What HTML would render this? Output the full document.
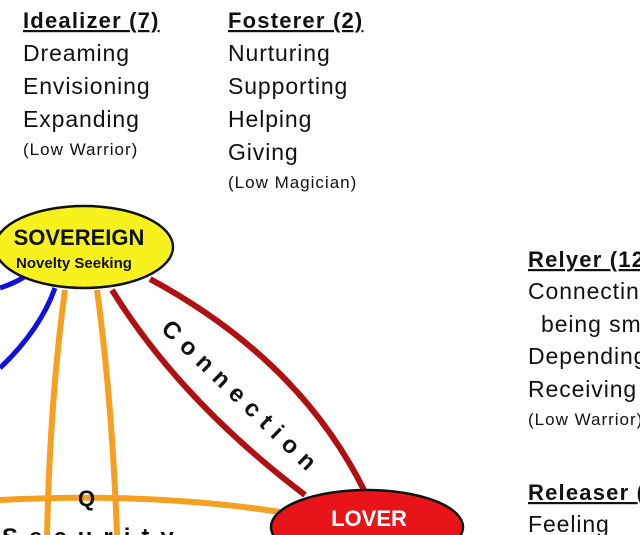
<!DOCTYPE html>
<html><head><style>
html,body{margin:0;padding:0;background:#fff;width:640px;height:535px;overflow:hidden}
svg{display:block}
text{font-family:"Liberation Sans",sans-serif;fill:#111}
.h{font-weight:bold;font-size:22px;letter-spacing:1.2px;text-decoration:underline}
.t{font-size:23px;letter-spacing:0.9px}
.s{font-size:17px;letter-spacing:1px}
</style></head><body>
<svg width="640" height="535" viewBox="0 0 640 535">
<path d="M0,288 Q30,278 40,262" stroke="#1010e0" stroke-width="5" fill="none"/>
<path d="M0,368 Q40,330 55,288" stroke="#1010e0" stroke-width="5" fill="none"/>
<path d="M0,500 Q150,492 280,512" stroke="#f5a020" stroke-width="6" fill="none"/>
<path d="M65,290 Q50,400 47,535" stroke="#f5a020" stroke-width="6" fill="none"/>
<path d="M97,290 Q112,400 117,535" stroke="#f5a020" stroke-width="6" fill="none"/>
<path d="M112,290 Q180,400 305,495" stroke="#b01010" stroke-width="6" fill="none"/>
<path d="M150,279 Q300,360 365,492" stroke="#b01010" stroke-width="6" fill="none"/>
<text transform="translate(160,330) rotate(44)" style="font-size:24px;font-weight:bold;letter-spacing:8px">Connection</text>
<text x="78" y="506" style="font-size:22px;font-weight:bold">Q</text>
<text x="2" y="545" style="font-size:24px;font-weight:bold;letter-spacing:11px">Security</text>
<ellipse cx="84" cy="247" rx="89" ry="41" fill="#f7f21e" stroke="#111" stroke-width="2.5"/>
<text x="79" y="245" text-anchor="middle" style="font-size:22px;font-weight:bold">SOVEREIGN</text>
<text x="74" y="268" text-anchor="middle" style="font-size:15px;font-weight:bold">Novelty Seeking</text>
<ellipse cx="367" cy="527" rx="96" ry="37" fill="#e8141a" stroke="#111" stroke-width="2.5"/>
<text x="369" y="526" text-anchor="middle" style="font-size:22px;font-weight:bold;fill:#fff">LOVER</text>
<text x="23" y="28" class="h">Idealizer (7)</text>
<text x="23" y="61" class="t">Dreaming</text>
<text x="23" y="94" class="t">Envisioning</text>
<text x="23" y="127" class="t">Expanding</text>
<text x="23" y="155" class="s">(Low Warrior)</text>
<text x="228" y="28" class="h">Fosterer (2)</text>
<text x="228" y="61" class="t">Nurturing</text>
<text x="228" y="94" class="t">Supporting</text>
<text x="228" y="127" class="t">Helping</text>
<text x="228" y="160" class="t">Giving</text>
<text x="228" y="188" class="s">(Low Magician)</text>
<text x="528" y="267" class="h">Relyer (12)</text>
<text x="528" y="299" class="t">Connecting</text>
<text x="541" y="332" class="t">being small</text>
<text x="528" y="364" class="t">Depending</text>
<text x="528" y="397" class="t">Receiving</text>
<text x="528" y="425" class="s">(Low Warrior)</text>
<text x="528" y="500" class="h">Releaser (</text>
<text x="528" y="532" class="t">Feeling</text>
</svg>
</body></html>
